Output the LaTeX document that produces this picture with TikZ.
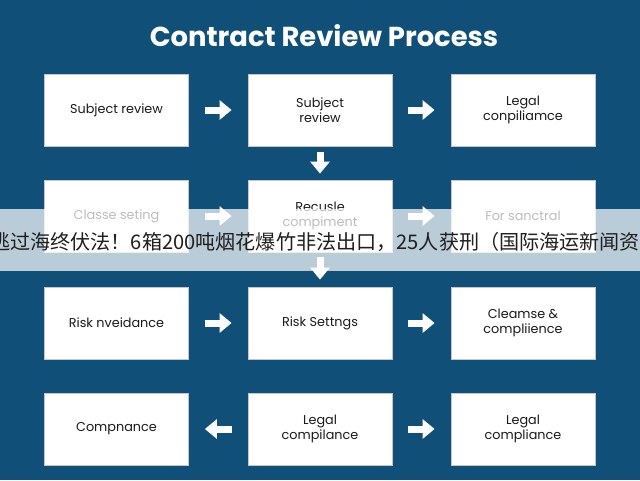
\documentclass[tikz,border=0pt]{standalone}
\usepackage{fontspec}
\usetikzlibrary{arrows.meta}
\newfontfamily\titlefont{Poppins}
\newfontfamily\boxfont{Poppins}
\newfontfamily\cjkfont{Noto Sans CJK SC}
\definecolor{bgblue}{HTML}{105078}
\definecolor{boxtext}{HTML}{1A1A1A}
\begin{document}
\begin{tikzpicture}[x=1pt,y=-1pt,
  stepbox/.style={draw=gray!45, line width=0.8pt, fill=white,
    minimum width=144pt, minimum height=72pt, inner sep=0pt, align=center,
    font=\boxfont\fontsize{12.8}{14.5}\selectfont, text=boxtext},
  flow/.style={draw=white, line width=7pt, -{Triangle[length=12pt,width=19pt]},
    shorten <=16pt, shorten >=16pt},
  flowdown/.style={draw=white, line width=7pt, -{Triangle[length=12pt,width=19pt]},
    shorten <=6pt, shorten >=6pt}]
\useasboundingbox (0,0) rectangle (640,480);
\clip (0,0) rectangle (640,480);
\fill[bgblue] (0,0) rectangle (640,480);

\node[anchor=base, text=white, font=\titlefont\bfseries\fontsize{27.4}{30}\selectfont, inner sep=0pt] (title) at (324,46) {Contract Review Process};

% row 1
\node[stepbox] (b11) at (116.5,110) {Subject review};
\node[stepbox] (b12) at (320,110) {Subject\\review};
\node[stepbox] (b13) at (523,110) {Legal\\conpiliamce};
% row 2
\node[stepbox] (b21) at (116.5,216) {Classe seting};
\node[stepbox] (b22) at (320,216) {Recusle\\compiment};
\node[stepbox] (b23) at (523,216) {For sanctral};
% row 3
\node[stepbox] (b31) at (116.5,323) {Risk nveidance};
\node[stepbox] (b32) at (320,323) {Risk Settngs};
\node[stepbox] (b33) at (523,323) {Cleamse \&\\compliience};
% row 4
\node[stepbox] (b41) at (116.5,429) {Compnance};
\node[stepbox] (b42) at (320,429) {Legal\\compilance};
\node[stepbox] (b43) at (523,429) {Legal\\compliance};

\draw[flow] (b11) -- (b12);
\draw[flow] (b12) -- (b13);
\draw[flowdown] (b12) -- (b22);
\draw[flow] (b21) -- (b22);
\draw[flow] (b22) -- (b23);
\draw[flowdown, shorten <=5pt, shorten >=7pt] (b22) -- (b32);
\draw[flow] (b31) -- (b32);
\draw[flow] (b32) -- (b33);
\draw[flow] (b42) -- (b41);
\draw[flow] (b42) -- (b43);

% overlay banner
\fill[white, opacity=0.71] (0,209) rectangle (640,271);
\node[anchor=west, inner sep=0pt, text=black!88, font=\cjkfont\fontsize{20.1}{22}\selectfont] (news) at (-10,242) {逃过海终伏法！6箱200吨烟花爆竹非法出口，25人获刑（国际海运新闻资讯）};
\end{tikzpicture}
\end{document}
